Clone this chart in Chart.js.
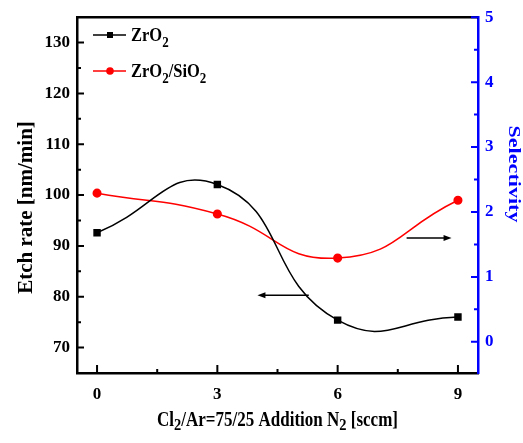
<!DOCTYPE html>
<html>
<head>
<meta charset="utf-8">
<script src="https://cdn.jsdelivr.net/npm/chart.js@4.4.0/dist/chart.umd.min.js"></script>
<style>
  html, body { margin: 0; padding: 0; background: #fff; }
  #wrap { width: 523px; height: 443px; }
</style>
</head>
<body>
<div id="wrap"><canvas id="c"></canvas></div>
<script>
// données
const nitrogen = [0, 3, 6, 9];
const etchRate = [92.6, 102.1, 75.4, 76.0];
const selectivity = [2.29, 1.97, 1.29, 2.18];
const xTicks = [0, 3, 6, 9];
const etchTicks = [70, 80, 90, 100, 110, 120, 130];
const selTicks = [0, 1, 2, 3, 4, 5];

const serif = "'Liberation Serif', 'Times New Roman', serif";
const BLUE = '#0000ff';
const RED = '#ff0000';

// texte avec indices (Cl2, ZrO2 ...)
function richText(c, parts, x, y, size, subSize, drop, align) {
  const main = 'bold ' + size + 'px ' + serif;
  const sub = 'bold ' + subSize + 'px ' + serif;
  let w = 0;
  parts.forEach(p => { c.font = p.sub ? sub : main; w += c.measureText(p.t).width; });
  let cx = align === 'center' ? x - w / 2 : x;
  c.textAlign = 'left';
  c.textBaseline = 'alphabetic';
  parts.forEach(p => {
    c.font = p.sub ? sub : main;
    c.fillText(p.t, cx, y + (p.sub ? drop : 0));
    cx += c.measureText(p.t).width;
  });
}

function arrow(c, x1, y1, x2, y2) {
  const dir = Math.sign(x2 - x1);
  c.beginPath();
  c.moveTo(x1, y1);
  c.lineTo(x2 - dir * 6, y2);
  c.stroke();
  c.beginPath();
  c.moveTo(x2, y2);
  c.lineTo(x2 - dir * 8, y2 - 3);
  c.lineTo(x2 - dir * 8, y2 + 3);
  c.closePath();
  c.fill();
}

const decor = {
  id: 'decor',
  afterDraw(chart) {
    const c = chart.ctx, a = chart.chartArea;
    const { x, y, y1 } = chart.scales;
    c.save();

    // cadre du haut
    c.strokeStyle = '#000';
    c.lineWidth = 2.5;
    c.beginPath();
    c.moveTo(a.left - 1, a.top);
    c.lineTo(a.right, a.top);
    c.stroke();

    // graduations vers l'intérieur
    c.lineWidth = 2;
    c.beginPath();
    for (let v = 0; v <= 9; v += 1.5) {
      const px = x.getPixelForValue(v);
      const len = v % 3 === 0 ? 8 : 4;
      c.moveTo(px, a.bottom);
      c.lineTo(px, a.bottom - len);
    }
    for (let v = 70; v <= 130; v += 5) {
      const py = y.getPixelForValue(v);
      const len = v % 10 === 0 ? 7 : 4;
      c.moveTo(a.left, py);
      c.lineTo(a.left + len, py);
    }
    c.stroke();
    c.strokeStyle = BLUE;
    c.beginPath();
    for (let v = 0; v <= 5; v += 0.5) {
      const py = y1.getPixelForValue(v);
      const len = v % 1 === 0 ? 7 : 4;
      c.moveTo(a.right, py);
      c.lineTo(a.right - len, py);
    }
    c.stroke();

    // flèches vers les axes
    c.strokeStyle = '#000';
    c.fillStyle = '#000';
    c.lineWidth = 1.5;
    arrow(c, x.getPixelForValue(5.28), y.getPixelForValue(80.3), x.getPixelForValue(4.0), y.getPixelForValue(80.3));
    arrow(c, x.getPixelForValue(7.72), y1.getPixelForValue(1.6), x.getPixelForValue(8.84), y1.getPixelForValue(1.6));

    // légende
    c.lineWidth = 1.5;
    c.beginPath(); c.moveTo(93, 35); c.lineTo(126, 35); c.stroke();
    c.fillRect(107, 32, 6, 6);
    c.strokeStyle = RED; c.fillStyle = RED;
    c.beginPath(); c.moveTo(93, 71); c.lineTo(126, 71); c.stroke();
    c.beginPath(); c.arc(110, 71, 3.8, 0, Math.PI * 2); c.fill();

    c.fillStyle = '#000';
    c.save(); c.translate(131, 40.7); c.scale(1, 1.16);
    richText(c, [{ t: 'ZrO' }, { t: '2', sub: true }], 0, 0, 16.5, 13, 5.5, 'left');
    c.restore();
    c.save(); c.translate(131, 76.7); c.scale(1, 1.16);
    richText(c, [{ t: 'ZrO' }, { t: '2', sub: true }, { t: '/SiO' }, { t: '2', sub: true }], 0, 0, 16.5, 13, 5.5, 'left');
    c.restore();

    // titre de l'axe x
    c.save(); c.translate((a.left + a.right) / 2, 426); c.scale(1, 1.2);
    richText(c, [{ t: 'Cl' }, { t: '2', sub: true }, { t: '/Ar=75/25 Addition N' }, { t: '2', sub: true }, { t: ' [sccm]' }],
      0, 0, 17, 14.5, 3.6, 'center');
    c.restore();

    // titre gauche
    c.save(); c.translate(32, 207.5); c.rotate(-Math.PI / 2);
    c.font = 'bold 21px ' + serif;
    c.textAlign = 'center'; c.textBaseline = 'alphabetic';
    c.fillText('Etch rate [nm/min]', 0, 0);
    c.restore();

    // titre droit
    c.save(); c.translate(509, 174); c.rotate(Math.PI / 2); c.scale(1.3, 1);
    c.font = 'bold 17px ' + serif;
    c.fillStyle = BLUE;
    c.textAlign = 'center'; c.textBaseline = 'alphabetic';
    c.fillText('Selectivity', 0, 0);
    c.restore();

    c.restore();
  }
};

const tickFont = { family: serif, size: 17, weight: 'bold' };

new Chart(document.getElementById('c'), {
  type: 'line',
  data: {
    datasets: [
      {
        label: 'ZrO2',
        data: nitrogen.map((n, i) => ({ x: n, y: etchRate[i] })),
        yAxisID: 'y',
        borderColor: '#000',
        backgroundColor: '#000',
        borderWidth: 1.5,
        pointStyle: 'rect',
        pointRadius: 4.2,
        tension: 0.5
      },
      {
        label: 'ZrO2/SiO2',
        data: nitrogen.map((n, i) => ({ x: n, y: selectivity[i] })),
        yAxisID: 'y1',
        borderColor: RED,
        backgroundColor: RED,
        borderWidth: 1.5,
        pointStyle: 'circle',
        pointRadius: 3.8,
        tension: 0.5
      }
    ]
  },
  options: {
    responsive: true,
    maintainAspectRatio: false,
    animation: false,
    layout: { padding: { top: 14, left: 0, right: 0, bottom: 0 } },
    plugins: { legend: { display: false }, tooltip: { enabled: false } },
    scales: {
      x: {
        type: 'linear',
        min: -0.5,
        max: 9.5,
        afterBuildTicks: s => { s.ticks = xTicks.map(v => ({ value: v })); },
        afterFit: s => { s.height = 70; },
        grid: { display: false, drawTicks: false },
        border: { display: true, color: '#000', width: 2.5 },
        ticks: { font: tickFont, color: '#000', padding: 11, maxRotation: 0 }
      },
      y: {
        type: 'linear',
        position: 'left',
        min: 65,
        max: 135,
        afterBuildTicks: s => { s.ticks = etchTicks.map(v => ({ value: v })); },
        afterFit: s => { s.width = 77; },
        grid: { display: false, drawTicks: false },
        border: { display: true, color: '#000', width: 2.5 },
        ticks: { font: tickFont, color: '#000', padding: 7 }
      },
      y1: {
        type: 'linear',
        position: 'right',
        min: -0.48,
        max: 5,
        afterBuildTicks: s => { s.ticks = selTicks.map(v => ({ value: v })); },
        afterFit: s => { s.width = 45; },
        grid: { display: false, drawTicks: false },
        border: { display: true, color: BLUE, width: 2.5 },
        ticks: { font: tickFont, color: BLUE, padding: 7 }
      }
    }
  },
  plugins: [decor]
});
</script>
</body>
</html>
